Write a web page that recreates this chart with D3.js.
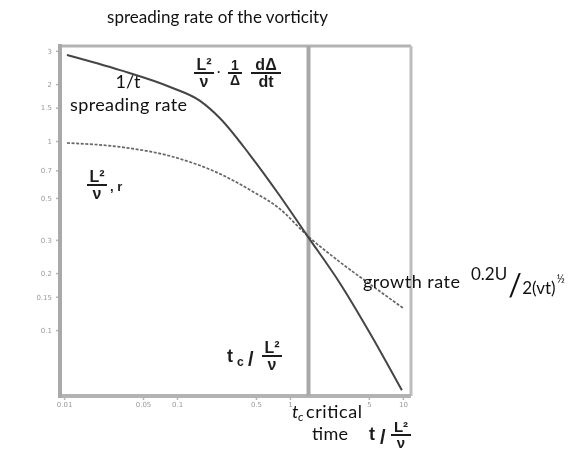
<!DOCTYPE html>
<meta charset="utf-8">
<style>
body { margin:0; background:#fff; }
svg { display:block; }
.tick text { font-family: "DejaVu Sans", sans-serif; font-size:7px; fill:#9a9a9a; }
.tick line { stroke:#b5b5b5; stroke-width:1.5px; }
.axis .domain { display:none; }
.overlay { font-family: Lato, sans-serif; fill:#111; }
.math { font-family: "Liberation Sans", sans-serif; font-weight:bold; fill:#1e1e1e; }
</style>
<body>
<script src="https://cdnjs.cloudflare.com/ajax/libs/d3/7.8.5/d3.min.js"></script>
<script>

// time axis (t / (L^2/nu)) and rate axis, both logarithmic
var tTicks = [0.01, 0.05, 0.1, 0.5, 1, 5, 10];
var rateTicks = [3, 2, 1.5, 1, 0.7, 0.5, 0.3, 0.2, 0.15, 0.1];

// spreading rate (L^2/nu * 1/Delta dDelta/dt), solid curve
var spreadT = [0.0106, 0.0313, 0.0867, 0.160, 0.240, 0.443, 0.816, 1.41, 2.77, 5.10, 9.80];
var spreadV = [2.85, 2.37, 1.93, 1.63, 1.32, 0.843, 0.512, 0.318, 0.177, 0.0965, 0.048];

// growth rate (L^2/nu * r), dotted curve
var growthT = [0.0106, 0.0313, 0.0867, 0.240, 0.443, 0.816, 1.41, 2.77, 5.10, 10.0];
var growthV = [0.976, 0.93, 0.833, 0.67, 0.551, 0.437, 0.318, 0.229, 0.175, 0.131];

var tCritical = 1.46;

var W = 577, H = 453;
var svg = d3.select("body").append("svg").attr("width", W).attr("height", H);

var x = d3.scaleLog().domain([0.0092, 11.8]).range([60, 411]);
var y = d3.scaleLog().domain([0.0448, 3.18]).range([396, 46]);

var defs = svg.append("defs");
defs.append("filter").attr("id","scan")
	.append("feGaussianBlur").attr("stdDeviation", 0.6);

// the scanned figure
var scan = svg.append("g").attr("filter","url(#scan)");

scan.append("g").attr("class","axis")
	.attr("transform","translate(" + x.range()[0] + ",0)")
	.call(d3.axisLeft(y).tickValues(rateTicks).tickSize(4).tickPadding(4)
		.tickFormat(function(d){ return String(d); }));

scan.append("g").attr("class","axis")
	.attr("transform","translate(0," + y.range()[0] + ")")
	.call(d3.axisBottom(x).tickValues(tTicks).tickSize(4).tickPadding(2)
		.tickFormat(function(d){ return String(d); }));

// frame
var fx0 = x.range()[0], fx1 = x.range()[1], fy0 = y.range()[1], fy1 = y.range()[0];
scan.append("line").attr("x1",fx0).attr("x2",fx1).attr("y1",fy0).attr("y2",fy0)
	.attr("stroke","#b3b3b3").attr("stroke-width",3);
scan.append("line").attr("x1",fx1).attr("x2",fx1).attr("y1",fy0).attr("y2",fy1)
	.attr("stroke","#bdbdbd").attr("stroke-width",3);
scan.append("line").attr("x1",fx0).attr("x2",fx1).attr("y1",fy1).attr("y2",fy1)
	.attr("stroke","#b3b3b3").attr("stroke-width",4);
scan.append("line").attr("x1",fx0).attr("x2",fx0).attr("y1",fy0-2).attr("y2",fy1+2)
	.attr("stroke","#a9a9a9").attr("stroke-width",4);

// critical time
scan.append("line")
	.attr("x1", x(tCritical)).attr("x2", x(tCritical))
	.attr("y1", fy0).attr("y2", fy1)
	.attr("stroke","#a8a8a8").attr("stroke-width",4);

var line = d3.line()
	.x(function(d){ return x(d[0]); })
	.y(function(d){ return y(d[1]); })
	.curve(d3.curveMonotoneX);

scan.append("path")
	.datum(d3.zip(growthT, growthV))
	.attr("d", line)
	.attr("fill","none").attr("stroke","#666").attr("stroke-width",1.7)
	.attr("stroke-dasharray","3,1.6");

scan.append("path")
	.datum(d3.zip(spreadT, spreadV))
	.attr("d", line)
	.attr("fill","none").attr("stroke","#444").attr("stroke-width",2);

// fraction-style labels from the scan
function frac(g, cx, barY, num, den, size, barW){
	g.append("text").attr("class","math").attr("x",cx).attr("y",barY-3)
		.attr("text-anchor","middle").style("font-size",size+"px").text(num);
	g.append("line").attr("x1",cx-barW/2).attr("x2",cx+barW/2)
		.attr("y1",barY).attr("y2",barY).attr("stroke","#1e1e1e").attr("stroke-width",2);
	g.append("text").attr("class","math").attr("x",cx).attr("y",barY+size*0.85)
		.attr("text-anchor","middle").style("font-size",size+"px").text(den);
}
function mtext(g, tx, ty, s, size){
	g.append("text").attr("class","math").attr("x",tx).attr("y",ty)
		.style("font-size",size+"px").text(s);
}

frac(scan, 204, 73, "L²", "ν", 16, 20);
mtext(scan, 217, 76, "·", 12);
frac(scan, 235, 73, "1", "Δ", 14, 14);
frac(scan, 266, 73, "dΔ", "dt", 16, 30);

frac(scan, 97, 185, "L²", "ν", 16, 20);
mtext(scan, 110, 191, ", r", 13);

mtext(scan, 227, 362, "t", 18);
mtext(scan, 237, 366, "c", 12);
mtext(scan, 248, 366, "/", 20);
frac(scan, 272, 356, "L²", "ν", 16, 20);

mtext(scan, 369, 440, "t", 18);
mtext(scan, 380, 444, "/", 20);
frac(scan, 401, 435, "L²", "ν", 15, 20);

// clean overlay text
var o = svg.append("g").attr("class","overlay");
function label(tx, ty, s, size, len, anchor){
	var t = o.append("text").attr("x",tx).attr("y",ty)
		.style("font-size",size+"px").text(s);
	if (len) t.attr("textLength",len).attr("lengthAdjust","spacing");
	if (anchor) t.attr("text-anchor",anchor);
	return t;
}
label(107, 23, "spreading rate of the vorticity", 17, 221);
label(128, 88, "1/t", 18, null, "middle");
label(70, 111, "spreading rate", 18, 117);
label(363, 288, "growth rate", 18, 97);
var num = label(471, 280, "0.2U", 17);
var slashX = 471 + num.node().getComputedTextLength() + 1;
label(slashX, 296, "/", 30);
var den = label(slashX + 14, 294, "2(vt)", 17);
label(slashX + 14 + den.node().getComputedTextLength() + 1, 283, "½", 11);
label(292, 418, "t", 18).style("font-style","italic");
label(298, 421, "c", 12).style("font-style","italic");
label(306, 418, "critical", 18, 56);
label(312, 440, "time", 18, 36);

</script>
</body>
